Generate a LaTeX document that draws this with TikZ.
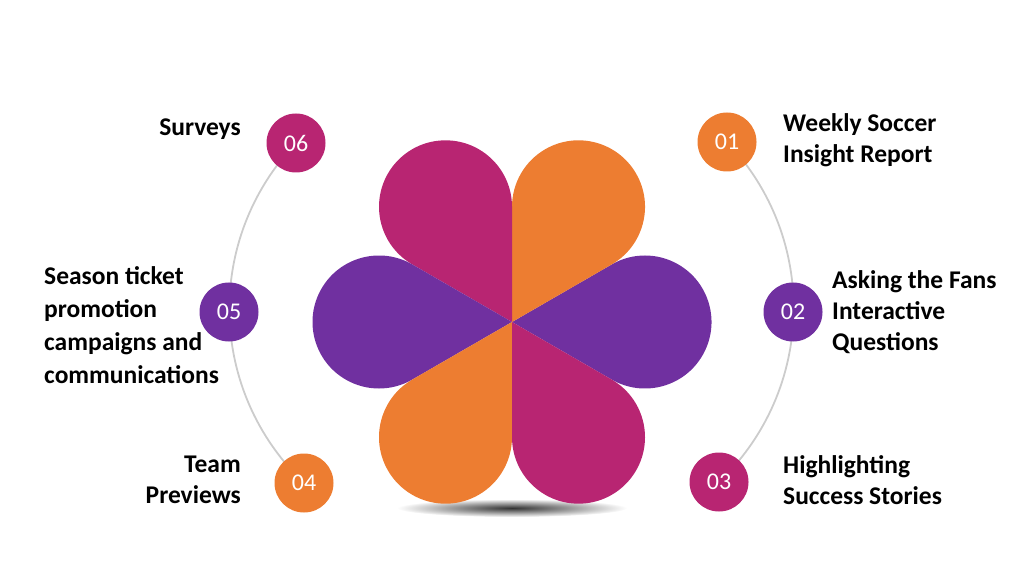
\documentclass[tikz,border=0pt]{standalone}
\usepackage{fontspec}
\setmainfont{Carlito}
\usetikzlibrary{positioning,backgrounds}
\definecolor{petalorange}{HTML}{ED7D31}
\definecolor{petalpink}{HTML}{B82572}
\definecolor{petalpurple}{HTML}{7030A0}
\tikzset{
  numdot/.style={circle, minimum size=59pt, inner sep=0pt, text=white, font=\fontsize{24}{24}\selectfont},
  itemtext/.style={inner sep=0pt, font=\fontsize{25.5}{31}\selectfont\bfseries},
  ring/.style={draw=black!20, line width=1.8pt},
}
\begin{document}
\begin{tikzpicture}[x=1pt,y=1pt]
    \useasboundingbox (0,0) rectangle (1024,576);
    \shade[inner color=black!80, outer color=white] (512,68) ellipse [x radius=115pt, y radius=9pt];
    \coordinate (o) at (512,254);
    \foreach \a/\c in {0/petalpurple,60/petalorange,120/petalpink,180/petalpurple,240/petalorange,300/petalpink}
        \fill[\c] (o) -- ++(\a-30:115.18pt) arc[start angle=\a-120, end angle=\a+120, radius=66.5pt] -- cycle;

    \node[numdot, fill=petalorange] (c1) at (727,434) {01};
    \node[numdot, fill=petalpurple] (c2) at (793,264) {02};
    \node[numdot, fill=petalpink] (c3) at (719,94) {03};
    \node[numdot, fill=petalorange] (c4) at (304,93) {04};
    \node[numdot, fill=petalpurple] (c5) at (229,264) {05};
    \node[numdot, fill=petalpink] (c6) at (296,433) {06};

    \begin{scope}[on background layer]
        \draw[ring] (c6.center) to[bend right=45] (c4.center);
        \draw[ring] (c1.center) to[bend left=45] (c3.center);
    \end{scope}

    \node[itemtext, anchor=west, align=left] (t1) at (783,436) {Weekly Soccer\\Insight Report};
    \node[itemtext, anchor=west, align=left] (t2) at (832,264) {Asking the Fans\\Interactive\\Questions};
    \node[itemtext, anchor=west, align=left] (t3) at (783,96) {Highlighting\\Success Stories};
    \node[itemtext, anchor=east, align=right] (t4) at (241,96) {Team\\Previews};
    \node[itemtext, anchor=west, align=left, font=\fontsize{25.5}{33}\selectfont\bfseries] (t5) at (44,251) {Season ticket\\promotion\\campaigns and\\communications};
    \node[itemtext, anchor=east, align=right] (t6) at (241,447) {Surveys};
\end{tikzpicture}
\end{document}
